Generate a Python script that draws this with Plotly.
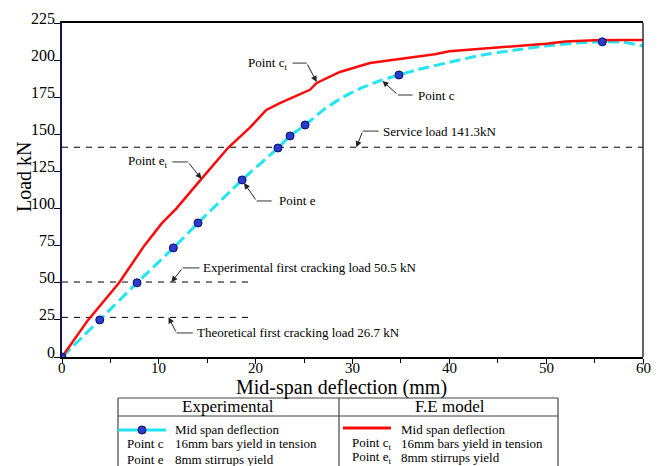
import plotly.graph_objects as go

# ---------------- data ----------------
exp_line_x = [0, 3.9, 7.75, 11.5, 14.05, 18.6, 22.3, 23.55, 25.1, 27.0, 29.0, 31.0, 33.0, 34.8, 37.0, 40.0, 43.0, 46.5, 50.1, 53.0, 55.8, 58.0, 60.0]
exp_line_y = [0, 25, 50, 73.5, 90.3, 119.3, 140.8, 148.9, 156.3, 166.5, 175.0, 181.5, 186.5, 190.0, 194.0, 198.5, 203.0, 206.5, 209.6, 211.5, 212.3, 212.0, 209.6]

exp_pts_x = [0, 3.9, 7.75, 11.5, 14.05, 18.6, 22.3, 23.55, 25.1, 34.8, 55.8]
exp_pts_y = [0, 25, 50, 73.5, 90.3, 119.3, 140.8, 148.9, 156.3, 190.0, 212.3]

fe_x = [0, 2.7, 5.9, 8.5, 10.3, 11.8, 14.4, 17.2, 19.4, 21.1, 22.5, 25.6, 26.3, 28.7, 31.8, 34.2, 36.5, 38.5, 40.0, 42.0, 45.0, 48.0, 50.0, 52.0, 55.0, 58.0, 60.0]
fe_y = [0, 25, 50, 75, 90, 100, 120, 141.3, 154.5, 166.4, 171, 180, 184.6, 192, 198, 200, 202, 204, 206, 207, 208.5, 210, 211, 212.5, 213.3, 213.5, 213.6]

ref_loads = [141.3, 50.5, 26.7]
ref_x_end = [60, 19.8, 19.8]

y_ticks = [0, 25, 50, 75, 100, 125, 150, 175, 200, 225]
x_ticks = [0, 10, 20, 30, 40, 50, 60]

# ---------------- geometry helpers (layout only) ----------------
L, R, T, B = 62, 17, 23, 109
W, H = 660, 466
PW, PH = W - L - R, H - T - B

def px(p):
    return (p - L) / PW

def py(p):
    return (H - B - p) / PH

SERIF = "Liberation Serif"
fig = go.Figure()

# reference dashed lines
for v, xe in zip(ref_loads, ref_x_end):
    fig.add_trace(go.Scatter(x=[0, xe], y=[v, v], mode="lines",
                             line=dict(color="black", width=1, dash="6px,6px"),
                             hoverinfo="skip", showlegend=False))

fig.add_trace(go.Scatter(x=exp_line_x, y=exp_line_y, mode="lines",
                         line=dict(color="#22e4f2", width=3, dash="11px,5px", shape="spline", smoothing=0.5),
                         showlegend=False))
fig.add_trace(go.Scatter(x=fe_x, y=fe_y, mode="lines",
                         line=dict(color="#ff0a0a", width=2.5),
                         showlegend=False))
fig.add_trace(go.Scatter(x=exp_pts_x, y=exp_pts_y, mode="markers",
                         marker=dict(color="#2a3ccc", size=8, line=dict(color="#0a0a70", width=1)),
                         showlegend=False))

annotations = []
shapes = []

# y tick labels (raised slightly above ticks)
for t in y_ticks:
    annotations.append(dict(x=0, xref="paper", y=t, yref="y", text=str(t),
                            showarrow=False, xanchor="right", yanchor="middle",
                            xshift=-5, yshift=5, font=dict(family=SERIF, size=16, color="black")))
# x tick labels
for t in x_ticks:
    annotations.append(dict(x=t, xref="x", y=py(368), yref="paper", text=str(t),
                            showarrow=False, xanchor="center", yanchor="middle",
                            font=dict(family=SERIF, size=15, color="black")))

# axis titles
annotations.append(dict(x=px(341), y=py(387), xref="paper", yref="paper",
                        text="Mid-span deflection (mm)", showarrow=False,
                        xanchor="center", yanchor="middle",
                        font=dict(family=SERIF, size=20, color="black")))
annotations.append(dict(x=px(24), y=py(177), xref="paper", yref="paper",
                        text="Load kN", showarrow=False, textangle=-90,
                        xanchor="center", yanchor="middle",
                        font=dict(family=SERIF, size=20, color="black")))

# callouts: (text, text anchor x, y, side, head(x,y), elbow(x,y), horizontal end x)
callouts = [
    ("Service load 141.3kN", 32.9, 152.2, "left", (30.4, 141.3), (31.06, 152.2), 32.7),
    ("Experimental first cracking load 50.5 kN", 14.35, 60.0, "left", (11.3, 50.5), (12.45, 60.0), 14.2),
    ("Theoretical first cracking load 26.7 kN", 13.7, 16.2, "left", (11.0, 26.7), (11.83, 16.2), 13.5),
    ("Point c<sub>t</sub>", 23.4, 198.0, "right", (26.3, 185.3), (25.27, 198.0), 23.8),
    ("Point c", 36.6, 176.5, "left", (33.1, 186.0), (34.7, 176.5), 36.2),
    ("Point e<sub>t</sub>", 11.0, 131.4, "right", (14.4, 120.0), (13.0, 131.4), 11.4),
    ("Point e", 22.2, 105.1, "left", (18.8, 117.2), (20.1, 105.1), 21.65),
]
for txt, tx, ty, side, head, elbow, hx in callouts:
    annotations.append(dict(x=tx, y=ty, xref="x", yref="y", text=txt, showarrow=False,
                            xanchor=side, yanchor="middle",
                            font=dict(family=SERIF, size=13, color="black")))
    shapes.append(dict(type="line", xref="x", yref="y", x0=elbow[0], y0=elbow[1], x1=hx, y1=elbow[1],
                       line=dict(color="#333333", width=1)))
    annotations.append(dict(x=head[0], y=head[1], xref="x", yref="y", ax=elbow[0], ay=elbow[1],
                            axref="x", ayref="y", text="", showarrow=True, arrowhead=2,
                            arrowsize=1.2, arrowwidth=1, arrowcolor="#222222", standoff=0, startstandoff=0))

# frame: right border
shapes.append(dict(type="line", xref="paper", yref="paper", x0=1, x1=1, y0=0, y1=1,
                   line=dict(color="#333333", width=1.5)))

# legend table
tl, tr, tt, th, tb, tdiv = 118, 558, 398, 416, 470, 339
tc = "#444444"
for (x0, y0, x1, y1) in [(tl, tt, tr, tt), (tl, th, tr, th), (tl, tt, tl, tb), (tr, tt, tr, tb), (tdiv, tt, tdiv, tb)]:
    shapes.append(dict(type="line", xref="paper", yref="paper", x0=px(x0), y0=py(y0), x1=px(x1), y1=py(y1),
                       line=dict(color=tc, width=1.2)))
# samples
shapes.append(dict(type="line", xref="paper", yref="paper", x0=px(118), y0=py(430), x1=px(166), y1=py(430),
                   line=dict(color="#22e4f2", width=3)))
shapes.append(dict(type="circle", xref="paper", yref="paper", x0=px(138), y0=py(426), x1=px(146), y1=py(434),
                   fillcolor="#2a3ccc", line=dict(color="#0a0a70", width=1)))
shapes.append(dict(type="line", xref="paper", yref="paper", x0=px(343), y0=py(428), x1=px(391), y1=py(428),
                   line=dict(color="#ff0a0a", width=3)))

legend_texts = [
    ("Experimental", 228, 406, "center", 17),
    ("F.E model", 450, 406, "center", 17),
    ("Mid span deflection", 173, 430, "left", 13),
    ("Point c", 125, 444, "left", 13),
    ("16mm bars yield in tension", 173, 444, "left", 13),
    ("Point e", 125, 459, "left", 13),
    ("8mm stirrups yield", 173, 459, "left", 13),
    ("Mid span deflection", 399, 430, "left", 13),
    ("Point c<sub>t</sub>", 350, 443, "left", 13),
    ("16mm bars yield in tension", 399, 443, "left", 13),
    ("Point e<sub>t</sub>", 350, 457, "left", 13),
    ("8mm stirrups yield", 399, 457, "left", 13),
]
for txt, x, y, anc, sz in legend_texts:
    annotations.append(dict(x=px(x), y=py(y), xref="paper", yref="paper", text=txt, showarrow=False,
                            xanchor=anc, yanchor="middle", font=dict(family=SERIF, size=sz, color="black")))

fig.update_layout(
    width=W, height=H,
    margin=dict(l=L, r=R, t=T, b=B, pad=0),
    paper_bgcolor="white", plot_bgcolor="white",
    showlegend=False,
    font=dict(family=SERIF),
    annotations=annotations, shapes=shapes,
    xaxis=dict(range=[0, 60], tickvals=x_ticks, showticklabels=False,
               showgrid=False, zeroline=False, showline=True, linecolor="black", linewidth=1.5,
               mirror=True, ticks="outside", ticklen=5, tickcolor="black",
               minor=dict(dtick=5, ticks="outside", ticklen=4, tickcolor="black")),
    yaxis=dict(range=[0, 225], tickvals=y_ticks, showticklabels=False,
               showgrid=False, zeroline=False, showline=True, linecolor="#141450", linewidth=1.5,
               ticks="outside", ticklen=6, tickcolor="black"),
)

fig.write_html("out.html")
